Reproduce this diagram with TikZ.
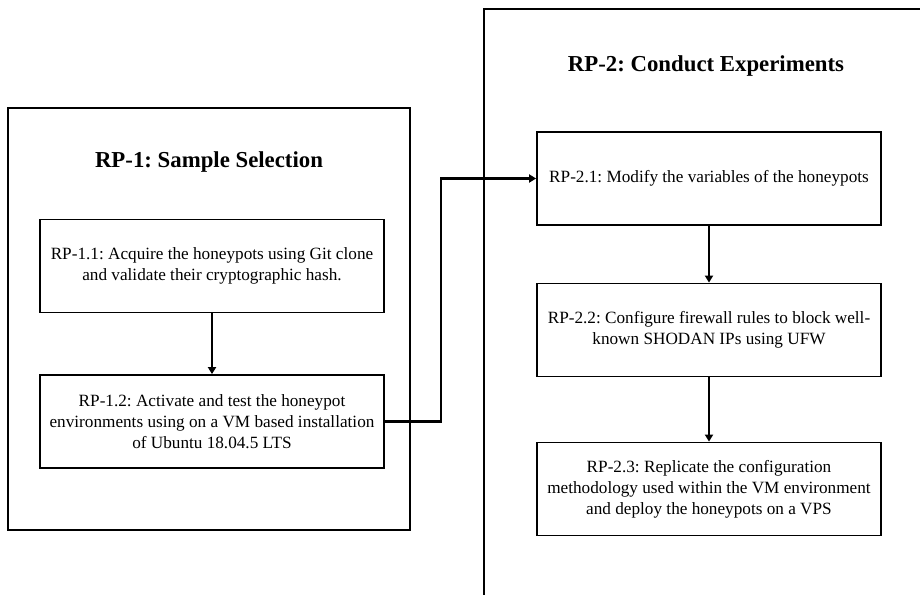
\documentclass[tikz,border=0pt]{standalone}
\usepackage{fontspec}
\setmainfont{Liberation Serif}
\usetikzlibrary{arrows.meta}
\frenchspacing
\begin{document}
\begin{tikzpicture}[x=1pt,y=-1pt,
  frame/.style={draw,line width=1.8pt,minimum width=402pt,minimum height=422pt},
  stepbox/.style={draw,line width=1.8pt,minimum width=344pt,minimum height=93pt,align=center,font=\fontsize{17.2}{20.8}\selectfont,inner sep=2pt},
  ttl/.style={font=\fontsize{22.8}{26}\selectfont\bfseries},
  arr/.style={line width=2.2pt,-{Triangle[length=7pt,width=8pt]}}]
\useasboundingbox (0,0) rectangle (920,594);
\clip (0,0) rectangle (920,594);
\node[frame] (f1) at (209,319) {};
\node[draw,line width=1.8pt,minimum width=477pt,minimum height=632pt,anchor=north west] (f2) at (483,8) {};
\node[ttl] (t1) at (209,162) {RP-1: Sample Selection};
\node[ttl] (t2) at (706,66) {RP-2: Conduct Experiments};
\node[stepbox] (b11) at (212,266) {RP-1.1: Acquire the honeypots using Git clone\\and validate their cryptographic hash.};
\node[stepbox] (b12) at (212,421.5) {RP-1.2: Activate and test the honeypot\\environments using on a VM based installation\\of Ubuntu 18.04.5 LTS};
\node[stepbox] (b21) at (709,178.5) {RP-2.1: Modify the variables of the honeypots};
\node[stepbox] (b22) at (709,330) {RP-2.2: Configure firewall rules to block well-\\known SHODAN IPs using UFW};
\node[stepbox] (b23) at (709,489) {RP-2.3: Replicate the configuration\\methodology used within the VM environment\\and deploy the honeypots on a VPS};
\draw[arr] (b11) -- (b12);
\draw[arr] (b21) -- (b22);
\draw[arr] (b22) -- (b23);
\coordinate (k) at (441,421.5);
\draw[arr] (b12.east) -- (k) |- (b21.west);
\end{tikzpicture}
\end{document}
